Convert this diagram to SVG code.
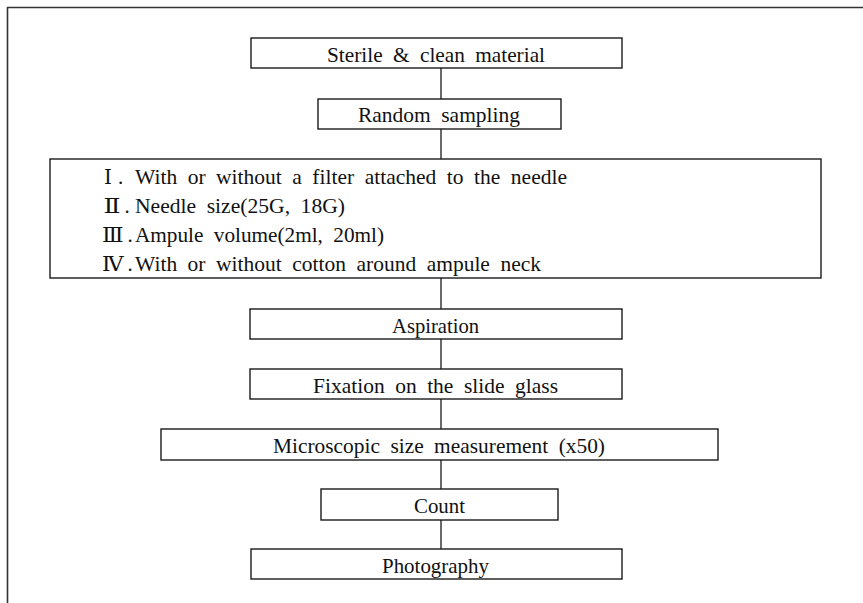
<svg xmlns="http://www.w3.org/2000/svg" width="863" height="603" viewBox="0 0 863 603">
<style>
  .box { fill: #ffffff; stroke: #1a1a1a; stroke-width: 1.4; }
  .frame { stroke: #333333; stroke-width: 1.6; fill: none; }
  .conn { stroke: #1a1a1a; stroke-width: 1.3; fill: none; }
  .t { font-family: "Liberation Serif", "Times New Roman", serif; font-size: 21px; word-spacing: 5px; fill: #111111; }
  .rn { font-family: "Liberation Serif", "DejaVu Serif", "Noto Sans CJK KR", serif; font-size: 20px; fill: #111111; }
</style>
<rect x="0" y="0" width="863" height="603" fill="#ffffff"/>
<g id="frame">
  <line class="frame" x1="7" y1="7.5" x2="863" y2="7.5"/>
  <line class="frame" x1="7.5" y1="7" x2="7.5" y2="603"/>
</g>
<g id="connectors">
  <line class="conn" x1="441" y1="68" x2="441" y2="99"/>
  <line class="conn" x1="441" y1="129" x2="441" y2="159"/>
  <line class="conn" x1="441" y1="278" x2="441" y2="309"/>
  <line class="conn" x1="441" y1="339" x2="441" y2="369"/>
  <line class="conn" x1="441" y1="399" x2="441" y2="429"/>
  <line class="conn" x1="441" y1="460" x2="441" y2="489"/>
  <line class="conn" x1="441" y1="520" x2="441" y2="549"/>
</g>
<g id="sterile">
  <rect class="box" x="251" y="38" width="371" height="30"/>
  <text class="t" x="327" y="61.5" textLength="218" lengthAdjust="spacingAndGlyphs">Sterile &amp; clean material</text>
</g>
<g id="random">
  <rect class="box" x="318" y="99" width="243" height="30"/>
  <text class="t" x="358" y="121.7" textLength="162" lengthAdjust="spacingAndGlyphs">Random sampling</text>
</g>
<g id="conditions">
  <rect class="box" x="50" y="159" width="771" height="119"/>
  <text class="rn" x="104" y="183.5">Ⅰ</text>
  <text class="t" x="118" y="183.5">.</text>
  <text class="t" x="135" y="183.5" textLength="432" lengthAdjust="spacingAndGlyphs">With or without a filter attached to the needle</text>
  <text class="rn" x="103.5" y="212.7" textLength="17" lengthAdjust="spacingAndGlyphs">Ⅱ</text>
  <text class="t" x="124.5" y="212.7">.</text>
  <text class="t" x="135" y="212.7" textLength="210" lengthAdjust="spacingAndGlyphs">Needle size(25G, 18G)</text>
  <text class="rn" x="102" y="241.9" textLength="21.5" lengthAdjust="spacingAndGlyphs">Ⅲ</text>
  <text class="t" x="127.5" y="241.9">.</text>
  <text class="t" x="135" y="241.9" textLength="249" lengthAdjust="spacingAndGlyphs">Ampule volume(2ml, 20ml)</text>
  <text class="rn" x="102" y="271.1" textLength="21.5" lengthAdjust="spacingAndGlyphs">Ⅳ</text>
  <text class="t" x="127.5" y="271.1">.</text>
  <text class="t" x="135" y="271.1" textLength="406" lengthAdjust="spacingAndGlyphs">With or without cotton around ampule neck</text>
</g>
<g id="aspiration">
  <rect class="box" x="250" y="309" width="372" height="30"/>
  <text class="t" x="392" y="332.7" textLength="87" lengthAdjust="spacingAndGlyphs">Aspiration</text>
</g>
<g id="fixation">
  <rect class="box" x="250" y="369" width="372" height="30"/>
  <text class="t" x="313" y="392.7" textLength="245" lengthAdjust="spacingAndGlyphs">Fixation on the slide glass</text>
</g>
<g id="microscopic">
  <rect class="box" x="161" y="429" width="557" height="31"/>
  <text class="t" x="273" y="453" textLength="332" lengthAdjust="spacingAndGlyphs">Microscopic size measurement (x50)</text>
</g>
<g id="count">
  <rect class="box" x="321" y="489" width="237" height="31"/>
  <text class="t" x="414" y="513" textLength="51" lengthAdjust="spacingAndGlyphs">Count</text>
</g>
<g id="photography">
  <rect class="box" x="251" y="549" width="371" height="30"/>
  <text class="t" x="382" y="572.5" textLength="107" lengthAdjust="spacingAndGlyphs">Photography</text>
</g>
</svg>
